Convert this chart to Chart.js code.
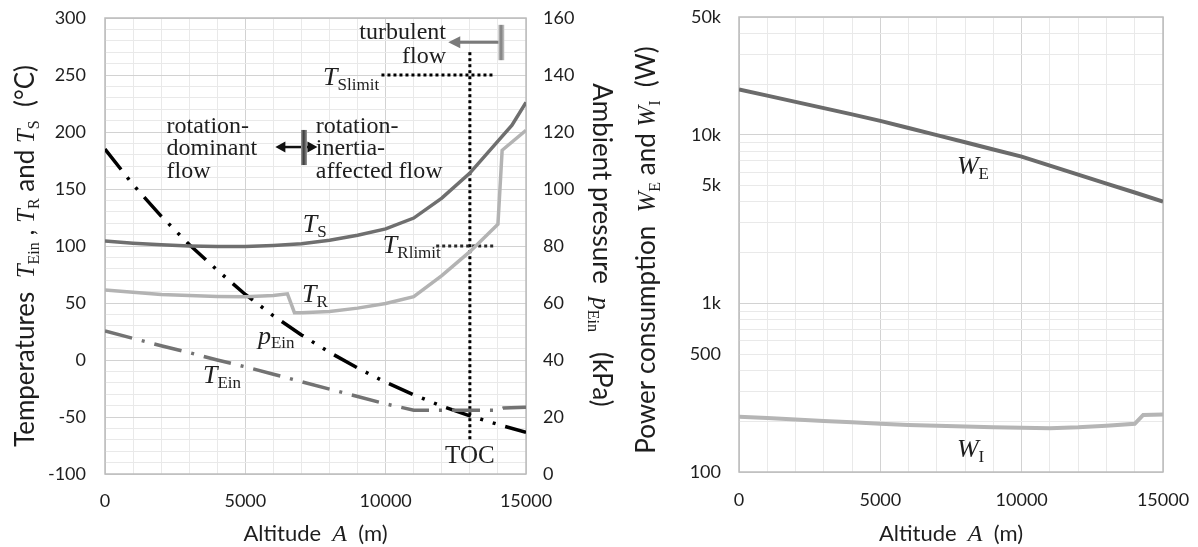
<!DOCTYPE html>
<html>
<head>
<meta charset="utf-8">
<script src="https://cdn.jsdelivr.net/npm/chart.js@4.4.1/dist/chart.umd.min.js"></script>
<style>
  html, body { margin: 0; padding: 0; background: #fff; }
  #wrap { position: relative; width: 1198px; height: 547px; overflow: hidden; }
  #thermal { position: absolute; left: 0; top: 0; }
  #power { position: absolute; left: 600px; top: 0; }
</style>
</head>
<body>
<div id="wrap">
  <canvas id="thermal" width="625" height="547"></canvas>
  <canvas id="power" width="598" height="547"></canvas>
</div>
<script>
// ---- altitude axis ----
const altitudeLabelValues = [0, 5000, 10000, 15000];

// ---- surface temperature T_S (°C) ----
const tsAltitude = [0, 1000, 2000, 3000, 4000, 5000, 6000, 7000, 8000, 9000, 10000, 11000, 12000, 13000, 14000, 14500, 15000];
const tsValues   = [104.5, 102.5, 101, 100, 99.5, 99.5, 100.5, 102, 105, 109.5, 115, 124.5, 142, 164, 192, 206, 226];

// ---- rotor temperature T_R (°C) ----
const trAltitude = [0, 1000, 2000, 3000, 4000, 5000, 6000, 6500, 6750, 7000, 8000, 9000, 10000, 11000, 12000, 13000, 14000, 14150, 15000];
const trValues   = [61.5, 59.5, 57.5, 56.5, 55.8, 55.5, 56.5, 58, 41.5, 41.5, 42.5, 45.5, 49.5, 55.5, 74, 95, 119, 184, 201.5];

// ---- inlet temperature T_Ein (°C) ----
const teinAltitude = [0, 1000, 2000, 3000, 4000, 5000, 6000, 7000, 8000, 9000, 10000, 11000, 12000, 13000, 14000, 14200, 15000];
const teinValues   = [25.5, 19, 12.5, 6.5, 0, -6, -12.5, -19, -25.5, -32, -38.5, -44, -44, -44, -44, -42, -41.5];

// ---- inlet pressure p_Ein (kPa) ----
const pAltitude = [0, 1000, 2000, 3000, 4000, 5000, 6000, 7000, 8000, 9000, 10000, 11000, 12000, 13000, 14000, 15000];
const pValues   = [114, 101.5, 90.5, 80.5, 71.5, 63, 55.5, 48.8, 42.7, 37.2, 32.2, 27.8, 23.8, 20.4, 17.4, 14.6];

// ---- limits and top of climb ----
const tSlimitValue = 250;
const tSlimitSpan  = [9850, 13900];
const tRlimitValue = 100;
const tRlimitSpan  = [11800, 13900];
const tocAltitude  = 13000;
const tocSpan      = [270, -72];

// ---- power consumption (W) ----
const weAltitude = [0, 1000, 2000, 3000, 4000, 5000, 6000, 7000, 8000, 9000, 10000, 11000, 12000, 13000, 14000, 15000];
const weValues   = [18600, 17080, 15680, 14400, 13220, 12100, 10980, 9960, 9030, 8190, 7420, 6570, 5810, 5140, 4550, 4020];
const wiAltitude = [0, 1000, 2000, 3000, 4000, 5000, 6000, 7000, 8000, 9000, 10000, 11000, 12000, 13000, 14000, 14300, 15000];
const wiValues   = [213, 209, 205, 201, 197, 193, 190, 188, 186, 184, 183, 182, 184, 188, 193, 218, 219];

// ---- tick labels ----
const tempLabelStep = 50;
const powerGridValues = [100, 200, 300, 400, 500, 600, 700, 800, 900,
                         1000, 2000, 3000, 4000, 5000, 6000, 7000, 8000, 9000,
                         10000, 20000, 30000, 40000, 50000];
const powerLabelValues = [100, 500, 1000, 5000, 10000, 50000];
const powerLabelTexts  = ['100', '500', '1k', '5k', '10k', '50k'];
const powerDecades     = [100, 1000, 10000];

// ---- styling ----
const SANS = '"Lato", "Open Sans", sans-serif';
const SERIF = '"Liberation Serif", "Times New Roman", serif';
const GRID_MAJOR = '#d2d2d2';
const GRID_MINOR = '#e9e9e9';
const FRAME = '#bcbcbc';
const TEXT = '#1e1e1e';
const tickFont = { family: SANS, size: 18 };
const Y_TITLE = 26;

function points(xs, ys) { return xs.map((a, i) => ({ x: a, y: ys[i] })); }

// fixed axis box sizes, no extra label overhang added to the plot margins
function fixBox(w, h) {
  return function (s) {
    if (w != null) s.width = w;
    if (h != null) s.height = h;
    s.paddingTop = 0; s.paddingBottom = 0; s.paddingLeft = 0; s.paddingRight = 0;
  };
}

function drawRich(ctx, parts, x, y, rot, align) {
  ctx.save();
  ctx.translate(x, y);
  ctx.rotate(rot);
  let w = 0;
  for (const p of parts) { ctx.font = p.font; w += ctx.measureText(p.text).width; }
  let cx = align === 'center' ? -w / 2 : (align === 'right' ? -w : 0);
  ctx.textAlign = 'left';
  ctx.textBaseline = 'alphabetic';
  for (const p of parts) {
    ctx.font = p.font;
    ctx.fillStyle = p.color || TEXT;
    ctx.fillText(p.text, cx, p.dy || 0);
    cx += ctx.measureText(p.text).width;
  }
  ctx.restore();
}

function sans(t, s) { return { text: t, font: `${s || 22}px ${SANS}` }; }
function ital(t, s) { return { text: t, font: `italic ${s || 25}px ${SERIF}` }; }
function sub(t, s, dy) { return { text: t, font: `${s || 16}px ${SERIF}`, dy: dy == null ? 5 : dy }; }

function drawVar(ctx, main, subscript, x, y) {
  drawRich(ctx, [ital(main, 26), sub(subscript, 17, 5)], x, y, 0, 'left');
}

function drawFrame(chart) {
  const { ctx, chartArea: a } = chart;
  ctx.save();
  ctx.strokeStyle = FRAME;
  ctx.lineWidth = 1.5;
  ctx.strokeRect(a.left, a.top, a.right - a.left, a.bottom - a.top);
  ctx.restore();
}

function arrowHead(ctx, x, y, dir, len, half) {
  ctx.beginPath();
  ctx.moveTo(x, y);
  ctx.lineTo(x - dir * len, y - half);
  ctx.lineTo(x - dir * len, y + half);
  ctx.closePath();
  ctx.fill();
}

function shadedBar(ctx, x, y0, y1, w, edge, core) {
  const g = ctx.createLinearGradient(x - w / 2, 0, x + w / 2, 0);
  g.addColorStop(0, edge);
  g.addColorStop(0.45, core);
  g.addColorStop(1, edge);
  ctx.fillStyle = g;
  ctx.fillRect(x - w / 2, Math.min(y0, y1), w, Math.abs(y1 - y0));
}

function altitudeTitle(chart) {
  const { ctx, chartArea: a } = chart;
  drawRich(ctx, [sans('Altitude  '), ital('A', 24), sans('  (m)')], (a.left + a.right) / 2, 541, 0, 'center');
}

function altitudeScale(height, pad) {
  return {
    type: 'linear', min: 0, max: 15000,
    ticks: {
      stepSize: 1000, autoSkip: false, maxRotation: 0, padding: pad,
      font: tickFont, color: TEXT,
      callback: (v) => altitudeLabelValues.includes(v) ? String(v) : ''
    },
    grid: { drawTicks: false, lineWidth: 1,
            color: (c) => (c.tick && altitudeLabelValues.includes(c.tick.value)) ? GRID_MAJOR : GRID_MINOR },
    border: { display: false },
    afterFit: fixBox(null, height)
  };
}

// ---- left chart: temperatures and inlet pressure ----
const thermalDecor = {
  id: 'thermalDecor',
  beforeDatasetsDraw(chart) { drawFrame(chart); },
  afterDraw(chart) {
    const { ctx } = chart;
    const { x, y } = chart.scales;
    const P = (a, v) => [x.getPixelForValue(a), y.getPixelForValue(v)];

    // curve labels
    drawVar(ctx, 'T', 'S', ...P(7050, 112.3));
    drawVar(ctx, 'T', 'R', ...P(7020, 50.9));
    drawRich(ctx, [ital('p', 26), sub('Ein', 17, 4)], ...P(5450, 14), 0, 'left');
    drawVar(ctx, 'T', 'Ein', ...P(3490, -20.2));
    drawVar(ctx, 'T', 'Slimit', ...P(7770, 241.2));
    drawVar(ctx, 'T', 'Rlimit', ...P(9900, 93.9));

    // top of climb
    ctx.save();
    ctx.font = `25px ${SERIF}`;
    ctx.fillStyle = TEXT;
    ctx.textAlign = 'center';
    ctx.fillText('TOC', ...P(tocAltitude, -90.4));

    // flow regime notes
    ctx.textAlign = 'right';
    ctx.font = `24px ${SERIF}`;
    ctx.fillText('turbulent', ...P(12150, 281.3));
    ctx.fillText('flow', ...P(12150, 260.8));
    ctx.textAlign = 'left';
    ctx.fillText('rotation-', ...P(2190, 199.1));
    ctx.fillText('dominant', ...P(2190, 179.4));
    ctx.fillText('flow', ...P(2190, 159.4));
    ctx.fillText('rotation-', ...P(7510, 199.1));
    ctx.fillText('inertia-', ...P(7510, 179.4));
    ctx.fillText('affected flow', ...P(7510, 159.4));

    // turbulent-flow boundary arrow
    const [ta0, ty] = P(14050, 278.7);
    const [ta1] = P(12230, 278.7);
    ctx.strokeStyle = '#7a7a7a';
    ctx.fillStyle = '#7a7a7a';
    ctx.lineWidth = 3;
    ctx.beginPath(); ctx.moveTo(ta0, ty); ctx.lineTo(ta1 + 10, ty); ctx.stroke();
    arrowHead(ctx, ta1, ty, -1, 12, 6);
    const [tbx, tb0] = P(14120, 294);
    const [, tb1] = P(14120, 263);
    shadedBar(ctx, tbx, tb0, tb1, 6, '#c8c8c8', '#7c7c7c');

    // rotation regime boundary double arrow
    const [ra0, ry] = P(6070, 186.8);
    const [ra1] = P(7570, 186.8);
    ctx.strokeStyle = '#111';
    ctx.fillStyle = '#111';
    ctx.lineWidth = 2.5;
    ctx.beginPath(); ctx.moveTo(ra0 + 8, ry); ctx.lineTo(ra1 - 8, ry); ctx.stroke();
    arrowHead(ctx, ra0, ry, -1, 10, 5.5);
    arrowHead(ctx, ra1, ry, 1, 10, 5.5);
    const [rbx, rb0] = P(7090, 201.8);
    const [, rb1] = P(7090, 171);
    shadedBar(ctx, rbx, rb0, rb1, 6, '#9a9a9a', '#3a3a3a');
    ctx.restore();

    // axis titles
    drawRich(ctx, [sans('Temperatures  ', Y_TITLE), ital('T'), sub('Ein'), sans(' , ', Y_TITLE), ital('T'), sub('R'),
                   sans(' and ', Y_TITLE), ital('T'), sub('S'), sans('  (°C)', Y_TITLE)], 34, 256, -Math.PI / 2, 'center');
    drawRich(ctx, [sans('Ambient pressure  ', Y_TITLE), ital('p'), sub('Ein'), sans('   (kPa)', Y_TITLE)],
             593, 245, Math.PI / 2, 'center');
    altitudeTitle(chart);
  }
};

new Chart(document.getElementById('thermal'), {
  type: 'line',
  data: {
    datasets: [
      { data: points(tsAltitude, tsValues), yAxisID: 'y', borderColor: '#6f6f6f', borderWidth: 3.5 },
      { data: points(trAltitude, trValues), yAxisID: 'y', borderColor: '#b3b3b3', borderWidth: 3.5 },
      { data: points(teinAltitude, teinValues), yAxisID: 'y', borderColor: '#737373', borderWidth: 3.5, borderDash: [28, 10, 3, 10] },
      { data: points(pAltitude, pValues), yAxisID: 'y1', borderColor: '#000', borderWidth: 3.5, borderDash: [26, 10, 3, 10, 3, 10] },
      { data: points(tSlimitSpan, [tSlimitValue, tSlimitValue]), yAxisID: 'y', borderColor: '#000', borderWidth: 3, borderDash: [3, 3] },
      { data: points(tRlimitSpan, [tRlimitValue, tRlimitValue]), yAxisID: 'y', borderColor: '#2a2a2a', borderWidth: 3, borderDash: [3, 3] },
      { data: points([tocAltitude, tocAltitude], tocSpan), yAxisID: 'y', borderColor: '#000', borderWidth: 3, borderDash: [3, 3] }
    ]
  },
  options: {
    responsive: false,
    animation: false,
    events: [],
    layout: { padding: { top: 18, left: 0, right: 0, bottom: 0 } },
    elements: { point: { radius: 0 }, line: { tension: 0, fill: false } },
    plugins: { legend: { display: false }, tooltip: { enabled: false } },
    scales: {
      x: altitudeScale(73, 16),
      y: {
        position: 'left', min: -100, max: 300,
        ticks: { stepSize: 10, autoSkip: false, padding: 19, font: tickFont, color: TEXT,
                 callback: (v) => (Math.round(v) % tempLabelStep === 0) ? String(Math.round(v)) : '' },
        grid: { drawTicks: false, lineWidth: 1,
                color: (c) => (c.tick && Math.round(c.tick.value) % tempLabelStep === 0) ? GRID_MAJOR : GRID_MINOR },
        border: { display: false },
        afterFit: fixBox(105, null)
      },
      y1: {
        position: 'right', min: 0, max: 160,
        ticks: { stepSize: 20, autoSkip: false, padding: 17, font: tickFont, color: TEXT },
        grid: { drawOnChartArea: false, drawTicks: false },
        border: { display: false },
        afterFit: fixBox(99, null)
      }
    }
  },
  plugins: [thermalDecor]
});

// ---- right chart: power consumption ----
const powerDecor = {
  id: 'powerDecor',
  beforeDatasetsDraw(chart) { drawFrame(chart); },
  afterDraw(chart) {
    const { ctx } = chart;
    const { x, y } = chart.scales;
    const P = (a, v) => [x.getPixelForValue(a), y.getPixelForValue(v)];
    drawVar(ctx, 'W', 'E', ...P(7710, 5860));
    drawVar(ctx, 'W', 'I', ...P(7710, 122.8));
    drawRich(ctx, [sans('Power consumption  ', Y_TITLE), ital('W'), sub('E'), sans(' and ', Y_TITLE), ital('W'), sub('I'),
                   sans('  (W)', Y_TITLE)], 55, 250, -Math.PI / 2, 'center');
    altitudeTitle(chart);
  }
};

new Chart(document.getElementById('power'), {
  type: 'line',
  data: {
    datasets: [
      { data: points(weAltitude, weValues), borderColor: '#6b6b6b', borderWidth: 4 },
      { data: points(wiAltitude, wiValues), borderColor: '#b5b5b5', borderWidth: 4 }
    ]
  },
  options: {
    responsive: false,
    animation: false,
    events: [],
    layout: { padding: { top: 17, left: 0, right: 35, bottom: 0 } },
    elements: { point: { radius: 0 }, line: { tension: 0, fill: false } },
    plugins: { legend: { display: false }, tooltip: { enabled: false } },
    scales: {
      x: altitudeScale(75, 17),
      y: {
        type: 'logarithmic', position: 'left', min: 100, max: 50000,
        afterBuildTicks(s) { s.ticks = powerGridValues.map((v) => ({ value: v, major: powerDecades.includes(v) })); },
        ticks: { autoSkip: false, padding: 18, font: tickFont, color: TEXT,
                 callback: (v) => { const i = powerLabelValues.indexOf(v); return i >= 0 ? powerLabelTexts[i] : ''; } },
        grid: { drawTicks: false, lineWidth: 1,
                color: (c) => (c.tick && powerDecades.includes(c.tick.value)) ? GRID_MAJOR : GRID_MINOR },
        border: { display: false },
        afterFit: fixBox(139, null)
      }
    }
  },
  plugins: [powerDecor]
});
</script>
</body>
</html>
